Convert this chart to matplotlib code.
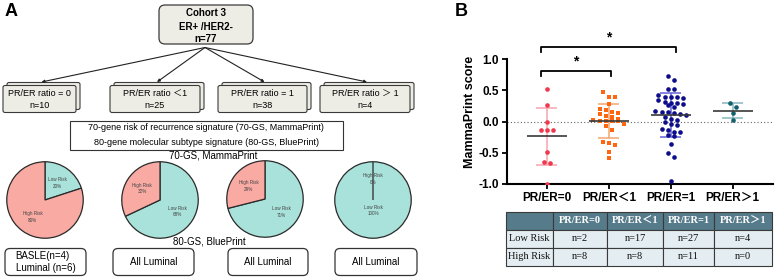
import numpy as np
import matplotlib
matplotlib.use("Agg")
import matplotlib.pyplot as plt
from matplotlib.patches import FancyBboxPatch, Rectangle

# ---------------- data ----------------
groups = ["PR/ER=0", "PR/ER＜1", "PR/ER=1", "PR/ER＞1"]
box_labels = ["PR/ER ratio = 0", "PR/ER ratio ＜1", "PR/ER ratio = 1", "PR/ER ratio ＞ 1"]
group_n = [10, 25, 38, 4]
low_risk = [2, 17, 27, 4]
high_risk = [8, 8, 11, 0]
blueprint_labels = ["BASLE(n=4)\nLuminal (n=6)", "All Luminal", "All Luminal", "All Luminal"]

scores_0 = [0.53, 0.27, 0.00, -0.13, -0.13, -0.13, -0.48, -0.64, -0.67, -1.00]
scores_lt1 = [0.47, 0.40, 0.40, 0.28, 0.20, 0.18, 0.16, 0.14, 0.12, 0.09, 0.08, 0.05,
              0.03, 0.01, 0.01, 0.01, 0.01, -0.03, -0.07, -0.13, -0.33, -0.35, -0.38,
              -0.49, -0.59]
scores_1 = [0.73, 0.67, 0.52, 0.52, 0.43, 0.40, 0.38, 0.40, 0.39, 0.35, 0.30, 0.31,
            0.30, 0.28, 0.27, 0.24, 0.17, 0.15, 0.13, 0.14, 0.16, 0.11, 0.08, 0.03,
            0.04, 0.00, -0.05, -0.04, -0.12, -0.14, -0.16, -0.17, -0.23, -0.22,
            -0.36, -0.51, -0.56, -0.95]
scores_gt1 = [0.30, 0.23, 0.14, 0.03]
all_scores = [scores_0, scores_lt1, scores_1, scores_gt1]
yticks = [-1.0, -0.5, 0.0, 0.5, 1.0]
sig_pairs = [(0, 1), (0, 2)]

# ---------------- figure ----------------
W, H = 777, 277
fig = plt.figure(figsize=(W / 100, H / 100), dpi=100)
SANS = ["Liberation Sans", "Noto Sans CJK SC"]
SERIF = ["Liberation Serif", "Noto Sans CJK SC"]


def fax(x0, y0, x1, y1):
    return fig.add_axes([x0 / W, 1 - y1 / H, (x1 - x0) / W, (y1 - y0) / H])


# ---------------- Panel A ----------------
ax0 = fax(0, 0, 440, 277)
ax0.set_xlim(0, 440)
ax0.set_ylim(277, 0)
ax0.axis("off")

ax0.text(5, 11, "A", fontsize=13, fontweight="bold", family=SANS, va="center", ha="left")
ax0.text(455, 11, "B", fontsize=13, fontweight="bold", family=SANS, va="center", ha="left",
         clip_on=False)

# cohort box
ax0.add_patch(FancyBboxPatch((159, 5), 94, 39, boxstyle="round,pad=0,rounding_size=6",
                             fc="#eeede5", ec="#3a3a3a", lw=0.9))
for yy, t in [(13.5, "Cohort 3"), (27, "ER+ /HER2-"), (39, f"n={sum(group_n)}")]:
    ax0.text(206, yy, t, fontsize=7, fontweight="bold", family=SANS, ha="center", va="center")

box_x = [(3, 76), (110, 200), (218, 307), (320, 410)]
for (a, b), lab, n in zip(box_x, box_labels, group_n):
    cx = (a + b) / 2
    ax0.annotate("", xy=(cx + 2, 82), xytext=(205, 47.5),
                 arrowprops=dict(arrowstyle="-|>", lw=0.8, color="#222", mutation_scale=4,
                                 shrinkA=0, shrinkB=0))
    ax0.add_patch(FancyBboxPatch((a + 4, 82.5), b - a, 27, boxstyle="round,pad=0,rounding_size=2",
                                 fc="#eeede5", ec="#3a3a3a", lw=0.8))
    ax0.add_patch(FancyBboxPatch((a, 85.5), b - a, 27, boxstyle="round,pad=0,rounding_size=2",
                                 fc="#eeede5", ec="#3a3a3a", lw=0.8))
    ax0.text(cx, 93.5, lab, fontsize=6.5, family=SANS, ha="center", va="center")
    ax0.text(cx, 105, f"n={n}", fontsize=6.5, family=SANS, ha="center", va="center")

ax0.add_patch(Rectangle((70, 121), 273, 29, fc="white", ec="#333", lw=0.8))
ax0.text(206, 128, "70-gene risk of recurrence signature (70-GS, MammaPrint)", fontsize=6.5,
         family=SANS, ha="center", va="center")
ax0.text(206, 142.5, "80-gene molecular subtype signature (80-GS, BluePrint)", fontsize=6.5,
         family=SANS, ha="center", va="center")
ax0.text(213, 156, "70-GS, MammaPrint", fontsize=7, family=SANS, ha="center", va="center")
ax0.text(209, 241, "80-GS, BluePrint", fontsize=7, family=SANS, ha="center", va="center")

# pies
pie_c = [(45, 200), (160, 200), (265, 199), (373, 200)]
R = 39
for (cx, cy), lo, hi in zip(pie_c, low_risk, high_risk):
    pa = fax(cx - R, cy - R, cx + R, cy + R)
    wedges, _ = pa.pie([lo, hi], colors=["#a8e2da", "#f8aaa3"], startangle=90,
                       counterclock=False, radius=1,
                       wedgeprops=dict(edgecolor="#2a2a2a", linewidth=0.9))
    tot = lo + hi
    for w, lab, v in zip(wedges, ["Low Risk", "High Risk"], [lo, hi]):
        frac = v / tot
        mid = np.deg2rad((w.theta1 + w.theta2) / 2)
        d = 0.28 if frac > 0.99 else 0.55
        pa.text(d * np.cos(mid), d * np.sin(mid), f"{lab}\n{round(100 * frac)}%",
                fontsize=3.3, ha="center", va="center", color="#444", family=SANS,
                linespacing=1.3)
    pa.set_xlim(-1.02, 1.02)
    pa.set_ylim(-1.02, 1.02)

bx = [(5, 86), (113, 194), (228, 308), (335, 417)]
for (a, b), t in zip(bx, blueprint_labels):
    ax0.add_patch(FancyBboxPatch((a, 248.5), b - a, 27, boxstyle="round,pad=0,rounding_size=5",
                                 fc="white", ec="#333", lw=0.9))
    ax0.text((a + b) / 2, 262, t, fontsize=7, family=SANS, ha="center", va="center",
             multialignment="left", linespacing=1.25)

# ---------------- Panel B ----------------
ax = fax(506.7, 40.6, 773, 184)
ax.set_xlim(-0.65, 3.65)
ax.set_ylim(-1.0, 1.3)

colors = ["#f0374b", "#ff6610", "#0d0d8c", "#12606e"]
sd_colors = ["#f6a4ad", "#f5a46f", "#6363d8", "#86b6be"]
markers = ["o", "s", "o", "o"]

px_x, px_y = 62.0, 62.35
row_h = 4.6 / px_y      # row height in data units
spacing = 6.2 / px_x    # horizontal spacing in data units
for gi, vals in enumerate(all_scores):
    vals = np.asarray(vals, float)
    order = np.argsort(-vals)
    xs = np.zeros(len(vals))
    rows, cur = [], [order[0]]
    for idx in order[1:]:
        if vals[cur[0]] - vals[idx] < row_h:
            cur.append(idx)
        else:
            rows.append(cur)
            cur = [idx]
    rows.append(cur)
    for row in rows:
        k = len(row)
        for i, idx in enumerate(row):
            xs[idx] = (i - (k - 1) / 2) * spacing
    m = vals.mean()
    sd = vals.std(ddof=1)
    ax.vlines(gi, m - sd, m + sd, color=sd_colors[gi], lw=1.1, zorder=2)
    ax.hlines([m - sd, m + sd], gi - 0.17, gi + 0.17, color=sd_colors[gi], lw=1.1, zorder=2)
    ax.scatter(gi + xs, vals, s=11 if markers[gi] == "o" else 10, marker=markers[gi],
               color=colors[gi], zorder=3, linewidths=0)
    ax.hlines(m, gi - 0.32, gi + 0.32, color="#383838", lw=1.2, zorder=4)

ax.axhline(0, color="#666", lw=0.8, ls=(0, (1, 2)), zorder=1)

for (a, b), yb in zip(sig_pairs, [0.82, 1.2]):
    xa, xb = a - 0.1, b + 0.04 * (b - a)
    ax.plot([xa, xa, xb, xb], [yb - 0.08, yb, yb, yb - 0.08], color="black", lw=1.3,
            clip_on=False)
    ax.text((xa + xb) / 2, yb + 0.04, "*", fontsize=10, fontweight="bold", ha="center",
            va="bottom", family=SANS)

for s in ["top", "right"]:
    ax.spines[s].set_visible(False)
ax.spines["left"].set_bounds(-1, 1)
ax.spines["left"].set_linewidth(1.5)
ax.spines["bottom"].set_linewidth(1.5)
ax.set_yticks(yticks)
ax.set_yticklabels([f"{v:.1f}" for v in yticks], fontsize=8.5, fontweight="bold", family=SANS)
ax.set_xticks(range(len(groups)))
ax.set_xticklabels(groups, fontsize=8.5, fontweight="bold", family=SANS)
ax.tick_params(axis="both", length=3.5, width=1.3, pad=2)
ax.set_ylabel("MammaPrint score", fontsize=9, fontweight="bold", family=SANS, labelpad=2)

# table
tb = fax(505.7, 211.7, 771.7, 265.7)
tb.axis("off")
cell_text = [[""] + groups, ["Low Risk"] + [f"n={v}" for v in low_risk],
             ["High Risk"] + [f"n={v}" for v in high_risk]]
cw = np.array([47.7, 53.3, 56.7, 50.7, 57.7])
table = tb.table(cellText=cell_text, bbox=[0, 0, 1, 1], colWidths=list(cw / cw.sum()),
                 cellLoc="center")
table.auto_set_font_size(False)
for (r, c), cell in table.get_celld().items():
    cell.set_edgecolor("#3a3a3a")
    cell.set_linewidth(0.8)
    cell.PAD = 0.02
    txt = cell.get_text()
    txt.set_fontsize(7.5)
    txt.set_family(SERIF)
    if r == 0:
        cell.set_facecolor("#567b8b")
        txt.set_color("white")
        txt.set_fontweight("bold")
    else:
        cell.set_facecolor("#e4edf1")
        txt.set_color("#111")

fig.savefig("out.png", dpi=100)
